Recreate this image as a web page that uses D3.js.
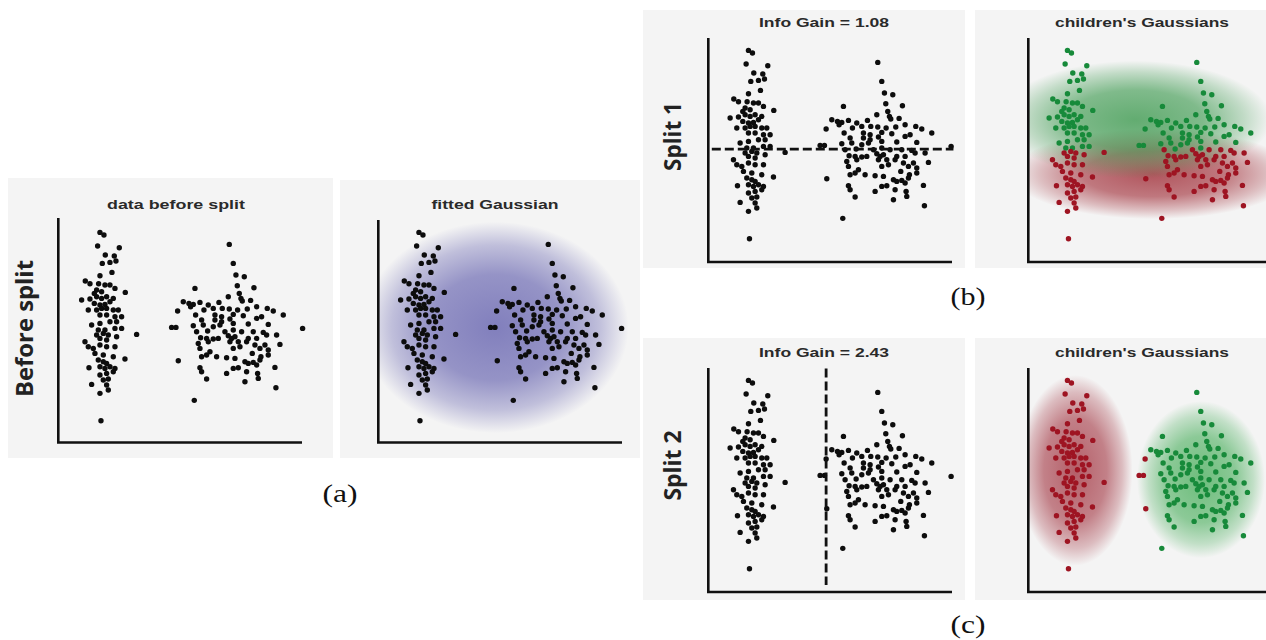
<!DOCTYPE html>
<html>
<head>
<meta charset="utf-8">
<script src="https://cdn.jsdelivr.net/npm/d3@7"></script>
<style>
  html, body { margin: 0; padding: 0; background: #fff; }
  svg { display: block; }
</style>
</head>
<body>
<svg id="chart"></svg>
<script>
const W = 1266, H = 640;

// Same point cloud is shown in all six panels
const leftCluster = [
  [12.5,62.8],[13.7,62.0],[11.8,58.7],[18.3,58.2],[14.1,56.0],[16.8,55.7],[13.2,53.5],[15.5,53.8],
  [17.3,54.2],[16.1,50.8],[12.5,49.8],[8.1,48.2],[9.5,47.4],[12.1,47.4],[14.0,47.0],[15.5,47.0],
  [11.5,45.5],[13.0,45.0],[10.8,44.5],[17.0,46.0],[20.1,44.8],[7.0,42.5],[9.5,42.8],[11.5,43.5],
  [13.0,43.0],[14.5,43.5],[16.5,43.0],[10.8,41.5],[12.5,41.0],[14.0,41.2],[15.5,42.0],[9.0,39.5],
  [11.5,39.5],[13.0,40.0],[14.5,40.0],[16.5,39.5],[18.0,39.5],[12.5,38.0],[14.5,38.0],[17.0,37.5],
  [19.0,37.5],[10.0,35.0],[12.5,35.5],[15.5,36.0],[17.5,36.0],[12.0,33.5],[14.0,33.5],[17.0,34.0],
  [19.0,34.0],[11.5,32.0],[13.5,32.5],[15.0,32.0],[23.5,32.2],[12.5,31.0],[14.5,30.5],[17.5,31.5],
  [8.0,30.0],[9.0,28.5],[10.5,28.0],[12.5,29.0],[14.5,28.5],[17.0,28.5],[11.0,26.5],[13.5,26.0],
  [16.5,25.5],[20.0,24.8],[12.0,24.5],[13.5,24.0],[14.5,23.5],[9.2,22.2],[12.5,22.5],[14.0,22.0],
  [15.5,22.5],[17.0,22.0],[12.5,20.0],[14.5,20.5],[16.5,21.0],[13.5,18.5],[15.0,18.8],[10.0,17.2],
  [14.5,17.0],[12.5,14.5],[15.0,15.5],[12.8,6.3]
];

const rightCluster = [
  [51.3,59.2],[52.5,53.5],[53.3,50.0],[55.8,49.5],[41.0,46.0],[53.7,46.8],[58.7,46.2],[54.3,44.5],
  [51.0,43.5],[54.8,43.0],[37.5,42.0],[39.2,41.5],[40.5,41.2],[42.5,41.8],[45.0,41.0],[48.2,41.8],
  [55.2,42.2],[57.7,42.4],[35.8,39.2],[39.7,40.5],[43.7,39.5],[46.5,40.0],[49.2,40.0],[51.3,39.8],
  [53.8,39.5],[56.7,39.8],[59.5,40.5],[62.7,40.0],[64.5,39.2],[67.5,38.0],[41.2,38.0],[47.0,38.0],
  [49.0,37.5],[52.5,38.2],[55.5,37.8],[43.0,36.5],[47.0,36.5],[49.0,36.0],[51.5,36.8],[59.5,37.0],
  [61.0,37.5],[34.0,34.3],[35.3,34.3],[40.5,34.8],[43.5,35.0],[46.5,34.5],[48.5,35.0],[52.5,35.5],
  [57.0,35.3],[63.0,35.2],[41.5,33.0],[44.8,33.2],[50.0,33.0],[52.5,33.5],[55.0,33.0],[58.5,33.0],
  [61.5,32.8],[73.3,34.0],[42.7,31.2],[44.5,31.0],[46.5,30.8],[48.0,31.0],[51.0,31.8],[52.0,31.0],
  [53.0,31.5],[57.0,31.0],[59.5,31.0],[62.5,32.0],[65.5,32.0],[42.0,29.5],[45.0,30.0],[51.5,30.0],
  [54.0,30.0],[56.5,30.0],[59.0,29.0],[62.0,29.0],[66.5,29.2],[42.5,28.0],[45.5,27.0],[52.5,28.0],
  [54.5,28.5],[60.5,28.0],[63.0,27.5],[44.5,26.0],[47.5,25.5],[50.5,25.2],[53.0,25.0],[58.2,26.5],
  [60.8,25.5],[63.0,26.0],[36.0,24.3],[43.0,25.5],[56.0,24.0],[58.5,23.8],[60.5,24.5],[42.5,22.2],
  [54.0,22.2],[57.0,23.5],[59.5,23.0],[65.0,22.3],[43.0,21.0],[50.5,20.5],[52.5,22.0],[56.5,21.0],
  [59.8,20.5],[44.5,18.8],[56.0,18.0],[60.0,19.0],[65.3,16.2],[40.8,12.4]
];

const split1Y = 33.2;      // horizontal cut of Split 1
const split2X = 35.8;      // vertical cut of Split 2
const childCutX = 36.5;    // membership used for split 2 children

const panelTitles = ['data before split', 'fitted Gaussian', 'Info Gain = 1.08',
                     "children's Gaussians", 'Info Gain = 2.43', "children's Gaussians"];
const rowLabels = ['Before split', 'Split 1', 'Split 2'];
const captions = ['(a)', '(b)', '(c)'];

// ---------- layout ----------
const panels = [
  { mode: 'plain',     ox: 58.3,   oy: 441.7, axX: 58.3,   axTop: 218, axBot: 442.5, axRight: 302,  bg: [8, 178, 325, 280],   tx: 176,  ty: 209, tl: 138 },
  { mode: 'fitted',    ox: 377.3,  oy: 441.7, axX: 378.3,  axTop: 220, axBot: 442.5, axRight: 622,  bg: [340, 180, 300, 278], tx: 495,  ty: 209, tl: 127 },
  { mode: 'split1',    ox: 706.8,  oy: 259.7, axX: 708.3,  axTop: 38,  axBot: 262,   axRight: 952,  bg: [643, 10, 322, 258],  tx: 824,  ty: 27,  tl: 130 },
  { mode: 'children1', ox: 1025.8, oy: 259.7, axX: 1028.3, axTop: 38,  axBot: 262,   axRight: 1266, bg: [975, 10, 291, 258],  tx: 1142, ty: 27,  tl: 174 },
  { mode: 'split2',    ox: 706.8,  oy: 589.7, axX: 708.3,  axTop: 368, axBot: 592,   axRight: 952,  bg: [643, 338, 322, 262], tx: 824,  ty: 357, tl: 130 },
  { mode: 'children2', ox: 1025.8, oy: 589.7, axX: 1028.3, axTop: 368, axBot: 592,   axRight: 1266, bg: [975, 338, 291, 262], tx: 1142, ty: 357, tl: 174 }
];

const rowLabelPos = [ { x: 33, y: 328.5, len: 137 }, { x: 681, y: 136.5, len: 69 }, { x: 681, y: 465.5, len: 70 } ];
const captionPos = [ { x: 340, y: 502 }, { x: 968, y: 305 }, { x: 968, y: 633 } ];

const COL = { dot: '#0d0d0d', red: '#9e1422', green: '#178a3a', axis: '#111' };

const svg = d3.select('#chart').attr('width', W).attr('height', H);
const defs = svg.append('defs');

// same scale in every panel, placed at the panel origin
const x = d3.scaleLinear().domain([0, 73]).range([0, 243.3]);
const y = d3.scaleLinear().domain([0, 67]).range([0, -223.3]);

const pts = leftCluster.map(d => ({ x: d[0], y: d[1], c: 0 }))
  .concat(rightCluster.map(d => ({ x: d[0], y: d[1], c: 1 })));

function addGradient(id, color, stops) {
  const g = defs.append('radialGradient').attr('id', id);
  stops.forEach(([o, a]) => g.append('stop')
    .attr('offset', o).attr('stop-color', color).attr('stop-opacity', a));
}
addGradient('gBlue', '#5b58aa', [[0, .75], [.5, .62], [.78, .34], [1, 0]]);
addGradient('gGreen1', '#3e9a50', [[0, .8], [.5, .64], [.8, .28], [1, 0]]);
addGradient('gRed1', '#a2323c', [[0, .82], [.5, .64], [.8, .28], [1, 0]]);
addGradient('gRed2', '#a43a46', [[0, .8], [.55, .62], [.82, .3], [1, 0]]);
addGradient('gGreen2', '#4caf5e', [[0, .8], [.55, .62], [.82, .3], [1, 0]]);

function fit(data) {
  return {
    mx: d3.mean(data, d => d.x), my: d3.mean(data, d => d.y),
    sx: d3.deviation(data, d => d.x), sy: d3.deviation(data, d => d.y)
  };
}

function drawGaussian(g, data, kx, ky, grad) {
  const f = fit(data);
  g.append('ellipse')
    .attr('cx', x(f.mx)).attr('cy', y(f.my))
    .attr('rx', x(f.sx * kx)).attr('ry', -y(f.sy * ky))
    .attr('fill', `url(#${grad})`);
}

// ---------- panels ----------
panels.forEach((p, i) => {
  svg.append('rect')
    .attr('x', p.bg[0]).attr('y', p.bg[1]).attr('width', p.bg[2]).attr('height', p.bg[3])
    .attr('fill', '#f4f4f4');

  const clipId = 'clip' + i;
  defs.append('clipPath').attr('id', clipId).append('rect')
    .attr('x', p.axX - p.ox).attr('y', p.bg[1] - p.oy)
    .attr('width', p.bg[0] + p.bg[2] - p.axX).attr('height', p.axBot - p.bg[1]);

  const g = svg.append('g').attr('transform', `translate(${p.ox},${p.oy})`);
  const shade = g.append('g').attr('clip-path', `url(#${clipId})`);

  let fill = () => COL.dot;
  if (p.mode === 'fitted') {
    drawGaussian(shade, pts, 2.0, 3.1, 'gBlue');
  } else if (p.mode === 'children1') {
    const lo = pts.filter(d => d.y < split1Y), hi = pts.filter(d => d.y >= split1Y);
    drawGaussian(shade, lo, 2.1, 2.5, 'gRed1');
    drawGaussian(shade, hi, 2.1, 2.6, 'gGreen1');
    fill = d => d.y >= split1Y ? COL.green : COL.red;
  } else if (p.mode === 'children2') {
    const l = pts.filter(d => d.x < childCutX), r = pts.filter(d => d.x >= childCutX);
    drawGaussian(shade, l, 3.2, 2.4, 'gRed2');
    drawGaussian(shade, r, 2.5, 2.8, 'gGreen2');
    fill = d => d.x < childCutX ? COL.red : COL.green;
  }

  g.append('g').selectAll('circle')
    .data(pts)
    .join('circle')
    .attr('cx', d => x(d.x))
    .attr('cy', d => y(d.y))
    .attr('r', 2.7)
    .attr('fill', fill);

  if (p.mode === 'split1') {
    g.append('line')
      .attr('x1', x(1.5)).attr('x2', x(74))
      .attr('y1', y(split1Y)).attr('y2', y(split1Y))
      .attr('stroke', '#111').attr('stroke-width', 2.8).attr('stroke-dasharray', '9,4');
  }
  if (p.mode === 'split2') {
    g.append('line')
      .attr('x1', x(split2X)).attr('x2', x(split2X))
      .attr('y1', y(66.4)).attr('y2', y(1.4))
      .attr('stroke', '#111').attr('stroke-width', 2.8).attr('stroke-dasharray', '9,4');
  }

  // axes (bare lines, no ticks)
  svg.append('path')
    .attr('d', `M${p.axX},${p.axTop}V${p.axBot}H${p.axRight}`)
    .attr('fill', 'none').attr('stroke', COL.axis).attr('stroke-width', 2.6);

  svg.append('text')
    .attr('x', p.tx).attr('y', p.ty)
    .attr('text-anchor', 'middle')
    .attr('textLength', p.tl).attr('lengthAdjust', 'spacingAndGlyphs')
    .style('font-family', '"Liberation Sans", Arial, sans-serif')
    .style('font-weight', 700).style('font-size', '13px')
    .attr('fill', '#2a2a2a')
    .text(panelTitles[i]);
});

rowLabels.forEach((t, i) => {
  const p = rowLabelPos[i];
  svg.append('text')
    .attr('transform', `translate(${p.x},${p.y}) rotate(-90)`)
    .attr('text-anchor', 'middle')
    .attr('textLength', p.len).attr('lengthAdjust', 'spacingAndGlyphs')
    .style('font-family', '"Open Sans", "Noto Sans", sans-serif')
    .style('font-weight', 700).style('font-size', '23px')
    .attr('fill', '#222')
    .text(t);
});

captions.forEach((t, i) => {
  const p = captionPos[i];
  svg.append('text')
    .attr('x', p.x).attr('y', p.y)
    .attr('text-anchor', 'middle')
    .attr('textLength', 35).attr('lengthAdjust', 'spacingAndGlyphs')
    .style('font-family', '"Liberation Serif", "Times New Roman", serif')
    .style('font-size', '25px')
    .attr('fill', '#111')
    .text(t);
});
</script>
</body>
</html>
